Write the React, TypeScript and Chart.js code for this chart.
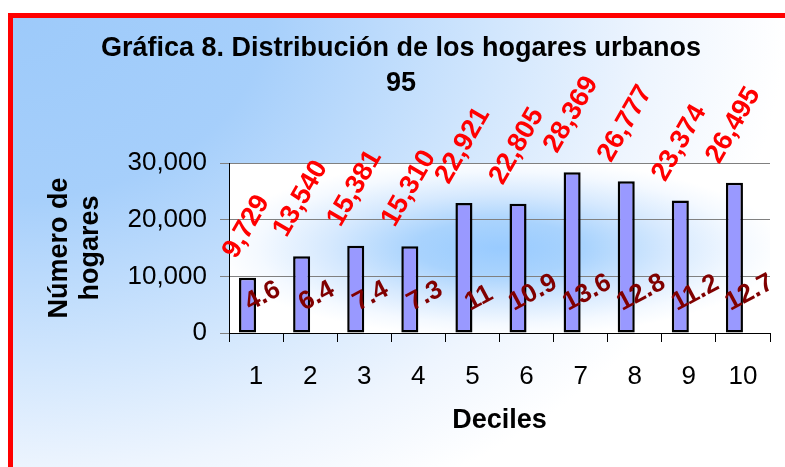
import React, { useEffect, useRef } from 'react';
import { Chart, registerables } from 'chart.js';

Chart.register(...registerables);

const deciles = ['1', '2', '3', '4', '5', '6', '7', '8', '9', '10'];
const hogares = [9729, 13540, 15381, 15310, 22921, 22805, 28369, 26777, 23374, 26495];
const porcentajes = [4.6, 6.4, 7.4, 7.3, 11, 10.9, 13.6, 12.8, 11.2, 12.7];
const yTicks = [0, 10000, 20000, 30000];
const titleLines = ['Gráfica 8. Distribución de los hogares urbanos', '95'];
const xTitle = 'Deciles';
const yTitle = ['Número de', 'hogares'];

const FONT = '"Liberation Sans", Arial, Helvetica, sans-serif';

const plotBgPlugin = {
  id: 'plotBg',
  beforeDraw(chart: any) {
    const { ctx, chartArea } = chart;
    const { left, top, right, bottom } = chartArea;
    const w = right - left;
    const h = bottom - top;
    ctx.save();
    ctx.fillStyle = '#ffffff';
    ctx.fillRect(left, top, w, h);
    ctx.beginPath();
    ctx.rect(left, top, w, h);
    ctx.clip();
    const cx = (left + right) / 2;
    const cy = (top + bottom) / 2;
    const rx = w / 2;
    const ry = h / 2;
    ctx.translate(cx, cy);
    ctx.scale(rx / ry, 1);
    const g = ctx.createRadialGradient(0, 0, 0, 0, 0, ry * 1.05);
    g.addColorStop(0, '#99cbff');
    g.addColorStop(0.3, '#a9d3fd');
    g.addColorStop(0.6, '#d6e9fe');
    g.addColorStop(0.85, '#f4f9ff');
    g.addColorStop(1, '#ffffff');
    ctx.fillStyle = g;
    ctx.fillRect(-ry * 2, -ry * 2, ry * 4, ry * 4);
    ctx.restore();
  },
};

const labelPlugin = {
  id: 'rotLabels',
  afterDatasetsDraw(chart: any) {
    const ctx = chart.ctx;
    const zeroY = chart.scales.y.getPixelForValue(0);
    const m0 = chart.getDatasetMeta(0);
    const m1 = chart.getDatasetMeta(1);
    ctx.save();
    ctx.textAlign = 'center';
    ctx.textBaseline = 'middle';

    // Counts (red), rotated -60deg above bars
    const s1 = 27;
    ctx.font = `bold ${s1}px ${FONT}`;
    ctx.fillStyle = '#ff0000';
    const a1 = (60 * Math.PI) / 180;
    m0.data.forEach((bar: any, i: number) => {
      const txt = hogares[i].toLocaleString('en-US');
      const w = ctx.measureText(txt).width;
      const hh = s1 * 0.72;
      const halfH = (w * Math.sin(a1) + hh * Math.cos(a1)) / 2;
      ctx.save();
      ctx.translate(bar.x - 1, bar.y - 17 - halfH);
      ctx.rotate(-a1);
      ctx.fillText(txt, 0, 0);
      ctx.restore();
    });

    // Percentages (dark red), rotated near the base
    const s2 = 26;
    ctx.font = `bold ${s2}px ${FONT}`;
    ctx.fillStyle = '#800000';
    const a2 = (28 * Math.PI) / 180;
    m1.data.forEach((bar: any, i: number) => {
      const txt = String(porcentajes[i]);
      const w = ctx.measureText(txt).width;
      const hh = s2 * 0.72;
      const halfH = (w * Math.sin(a2) + hh * Math.cos(a2)) / 2;
      ctx.save();
      ctx.translate(bar.x - 2, zeroY - 20 - halfH);
      ctx.rotate(-a2);
      ctx.fillText(txt, 0, 0);
      ctx.restore();
    });
    ctx.restore();
  },
};

export default function App() {
  const ref = useRef<HTMLCanvasElement | null>(null);

  useEffect(() => {
    if (!ref.current) return;
    const chart = new Chart(ref.current, {
      type: 'bar',
      data: {
        labels: deciles,
        datasets: [
          {
            label: 'Número de hogares',
            data: hogares,
            backgroundColor: '#9999ff',
            borderColor: '#000000',
            borderWidth: 2.5,
            borderSkipped: false,
            categoryPercentage: 0.63,
            barPercentage: 1,
          },
          {
            label: 'Porcentaje',
            data: porcentajes,
            backgroundColor: 'rgba(0,0,0,0)',
            borderWidth: 0,
            categoryPercentage: 0.63,
            barPercentage: 1,
          },
        ],
      },
      options: {
        responsive: false,
        animation: false,
        layout: { padding: { left: 19, right: 15, top: 0, bottom: 30 } },
        plugins: {
          legend: { display: false },
          tooltip: { enabled: false },
          title: {
            display: true,
            text: titleLines,
            color: '#000000',
            font: { family: FONT, size: 27, weight: 'bold', lineHeight: 1.3 },
            padding: { top: 12.5, bottom: 62.3 },
          },
        },
        scales: {
          x: {
            grid: {
              display: true,
              drawOnChartArea: false,
              drawTicks: true,
              tickLength: 9,
              tickColor: '#000000',
              offset: true,
            },
            border: { display: true, color: '#000000', width: 1 },
            ticks: {
              color: '#000000',
              font: { family: FONT, size: 26 },
              padding: 19,
              maxRotation: 0,
              autoSkip: false,
            },
            title: {
              display: true,
              text: xTitle,
              color: '#000000',
              font: { family: FONT, size: 27, weight: 'bold', lineHeight: 1.2 },
              padding: { top: 12, bottom: 0 },
            },
            afterFit: (scale: any) => {
              scale.height = 104;
            },
          },
          y: {
            min: 0,
            max: 30000,
            afterBuildTicks: (scale: any) => {
              scale.ticks = yTicks.map((v) => ({ value: v }));
            },
            grid: {
              color: (c: any) => (c.tick && c.tick.value === 0 ? 'rgba(0,0,0,0)' : '#808080'),
              tickColor: '#808080',
              tickLength: 9,
              lineWidth: 1,
            },
            border: { display: true, color: '#000000', width: 1 },
            ticks: {
              color: '#000000',
              font: { family: FONT, size: 26 },
              padding: 13,
              callback: (v: any) => Number(v).toLocaleString('en-US'),
            },
            title: {
              display: true,
              text: yTitle,
              color: '#000000',
              font: { family: FONT, size: 27, weight: 'bold', lineHeight: 1.15 },
              padding: { top: 12, bottom: 0 },
            },
            afterFit: (scale: any) => {
              scale.width = 197;
            },
          },
        },
      },
      plugins: [plotBgPlugin, labelPlugin],
    });
    return () => chart.destroy();
  }, []);

  return (
    <div
      style={{
        position: 'fixed',
        left: 8,
        top: 13,
        width: 777,
        height: 454,
        boxSizing: 'border-box',
        borderTop: '5px solid #ff0000',
        borderLeft: '5px solid #ff0000',
        background:
          'radial-gradient(ellipse 840px 600px at 0 0, #9dcafa 0%, #a6cffb 30%, #cfe5fd 56%, #eef5fe 76%, #ffffff 92%)',
        overflow: 'hidden',
      }}
    >
      <canvas ref={ref} width={772} height={449} style={{ display: 'block' }} />
    </div>
  );
}
